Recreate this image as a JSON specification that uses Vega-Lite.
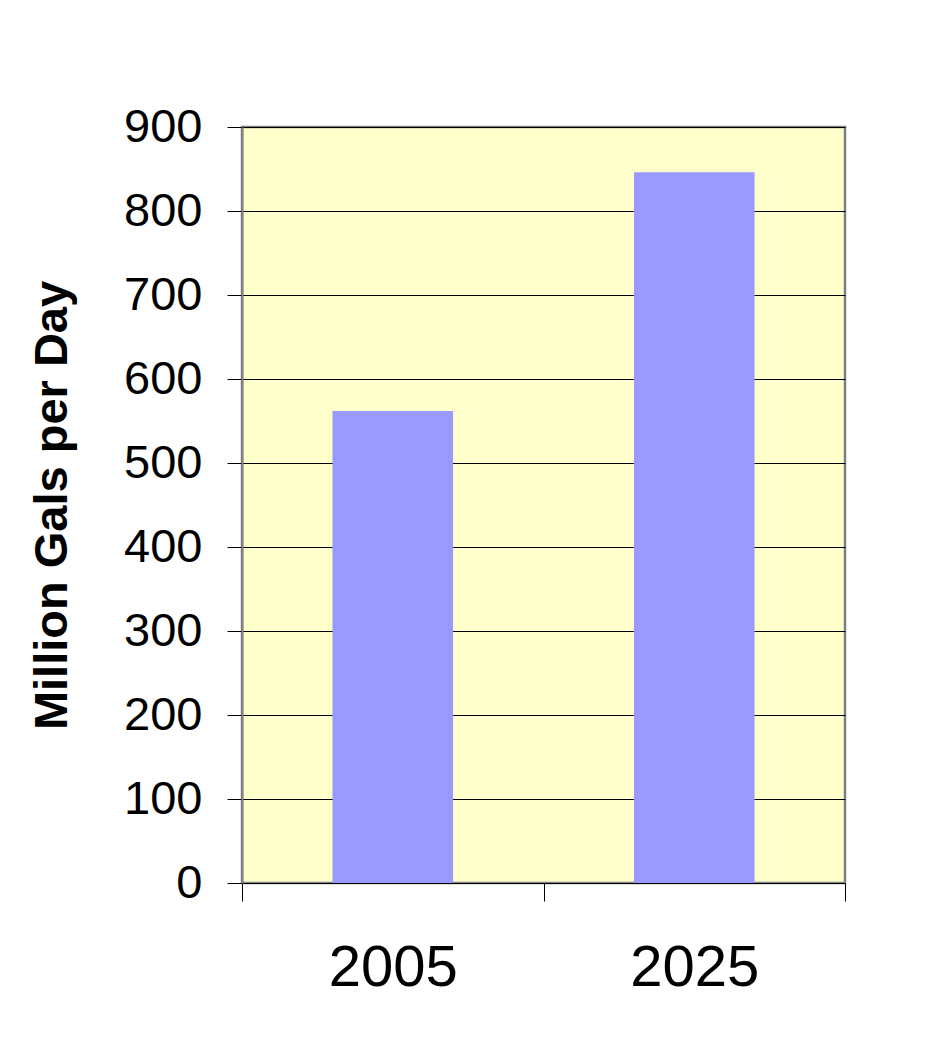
{
  "$schema": "https://vega.github.io/schema/vega-lite/v6.json",
  "width": 603,
  "height": 756,
  "autosize": {"type": "none"},
  "padding": {"left": 242, "top": 127, "right": 93, "bottom": 156},
  "background": "white",
  "config": {
    "view": {"fill": "#FFFFCC", "stroke": "#808080", "strokeWidth": 2.5},
    "font": "Liberation Sans"
  },
  "data": {"values": [
    {"Year": "2005", "MGD": 562},
    {"Year": "2025", "MGD": 846}
  ]},
  "mark": {"type": "bar", "color": "#9999FF", "width": {"band": 0.4}},
  "encoding": {
    "x": {
      "field": "Year", "type": "nominal", "sort": null,
      "scale": {"paddingInner": 0, "paddingOuter": 0},
      "axis": {
        "title": null, "labelAngle": 0, "labelFontSize": 58, "labelColor": "black",
        "labelPadding": 38, "tickBand": "extent", "tickSize": 18, "tickColor": "black",
        "domainColor": "black", "grid": false
      }
    },
    "y": {
      "field": "MGD", "type": "quantitative",
      "scale": {"domain": [0, 900], "nice": false},
      "axis": {
        "title": "Million Gals per Day",
        "values": [0, 100, 200, 300, 400, 500, 600, 700, 800, 900],
        "titleFontSize": 47, "titleFontWeight": "bold", "titleColor": "black", "titlePadding": 47,
        "labelFontSize": 47, "labelColor": "black", "labelPadding": 25,
        "tickSize": 15, "tickColor": "black",
        "gridColor": "black", "gridOpacity": 1, "gridWidth": 1,
        "domainColor": "#808080", "domainWidth": 2
      }
    }
  }
}
